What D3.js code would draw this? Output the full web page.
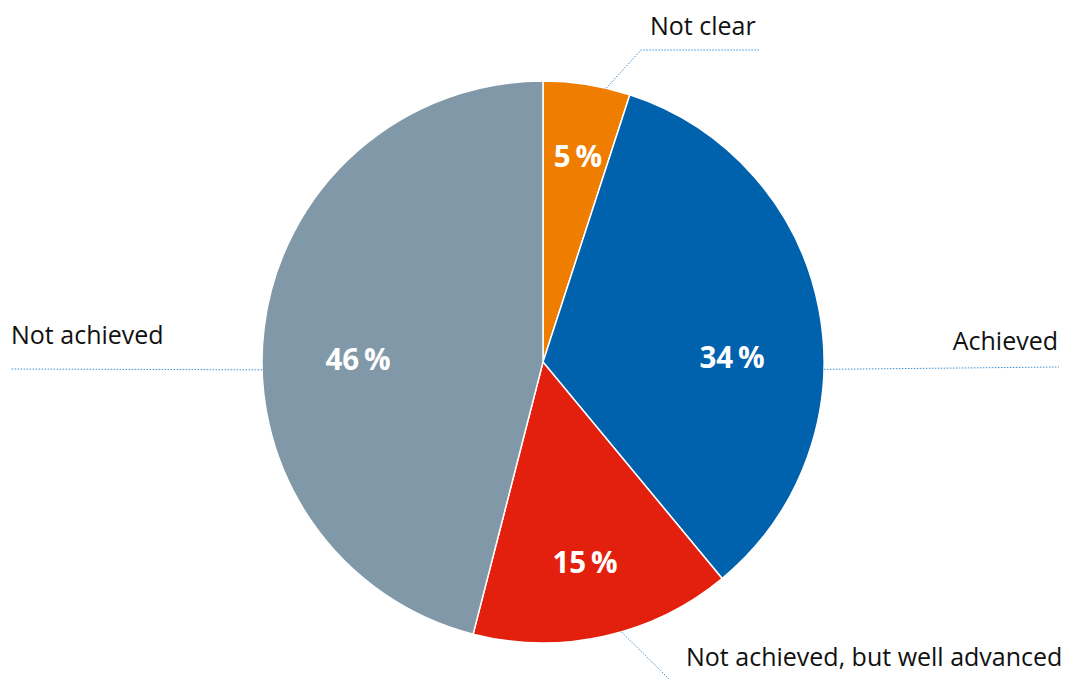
<!DOCTYPE html>
<html>
<head>
<meta charset="utf-8">
<script src="https://cdn.jsdelivr.net/npm/d3@7"></script>
<style>
  body { margin: 0; background: #fff; }
  text { font-family: "Open Sans", "DejaVu Sans", sans-serif; }
</style>
</head>
<body>
<svg id="chart" width="1070" height="679"></svg>
<script>
// data, clockwise from 12 o'clock
var categories = ['Not clear', 'Achieved', 'Not achieved, but well advanced', 'Not achieved'];
var shares = [5, 34, 15, 46];
var colours = ['#ef7d00', '#0061ad', '#e3200d', '#8198a8'];

// where each leader line leaves the pie (degrees) and how the label sits
var leaders = [
  { angle: 13,    pts: [[641, 50], [759, 50]],   tx: 650,  ty: 35,  anchor: 'start' },
  { angle: 91.5,  pts: [[1059, 367]],            tx: 1058, ty: 350, anchor: 'end' },
  { angle: 163.8, pts: [[669, 679]],             tx: 686,  ty: 666, anchor: 'start' },
  { angle: 268.4, pts: [[11, 369]],              tx: 11,   ty: 344, anchor: 'start' }
];

var cx = 543, cy = 362, r = 281;
var svg = d3.select('#chart');
var g = svg.append('g').attr('transform', 'translate(' + cx + ',' + cy + ')');

var pie = d3.pie().sort(null).value(function (d) { return d; });
var arcs = pie(shares);
var arc = d3.arc().innerRadius(0).outerRadius(r);

g.selectAll('path.slice')
  .data(arcs)
  .enter().append('path')
  .attr('class', 'slice')
  .attr('d', arc)
  .attr('fill', function (d, i) { return colours[i]; })
  .attr('stroke', '#fff')
  .attr('stroke-width', 1.5);

// percentage labels inside slices
var pctPos = [[35, -205], [189, -4], [42, 201], [-185, -2]];
g.selectAll('text.pct')
  .data(arcs)
  .enter().append('text')
  .attr('class', 'pct')
  .attr('x', function (d, i) { return pctPos[i][0]; })
  .attr('y', function (d, i) { return pctPos[i][1]; })
  .attr('dy', '0.35em')
  .attr('text-anchor', 'middle')
  .attr('fill', '#fff')
  .attr('font-weight', 'bold')
  .attr('font-size', 29.5)
  .text(function (d) { return d.value + '\u2009%'; });

// leader lines + category labels
var line = d3.line();
leaders.forEach(function (l, i) {
  var a = l.angle * Math.PI / 180;
  var start = [cx + r * Math.sin(a), cy - r * Math.cos(a)];
  svg.append('path')
    .attr('d', line([start].concat(l.pts)))
    .attr('fill', 'none')
    .attr('stroke', '#3d8fd1')
    .attr('stroke-width', 1)
    .attr('stroke-dasharray', '1.5,1.5');
  svg.append('text')
    .attr('x', l.tx)
    .attr('y', l.ty)
    .attr('text-anchor', l.anchor)
    .attr('font-size', 25)
    .attr('fill', '#111')
    .text(categories[i]);
});
</script>
</body>
</html>
